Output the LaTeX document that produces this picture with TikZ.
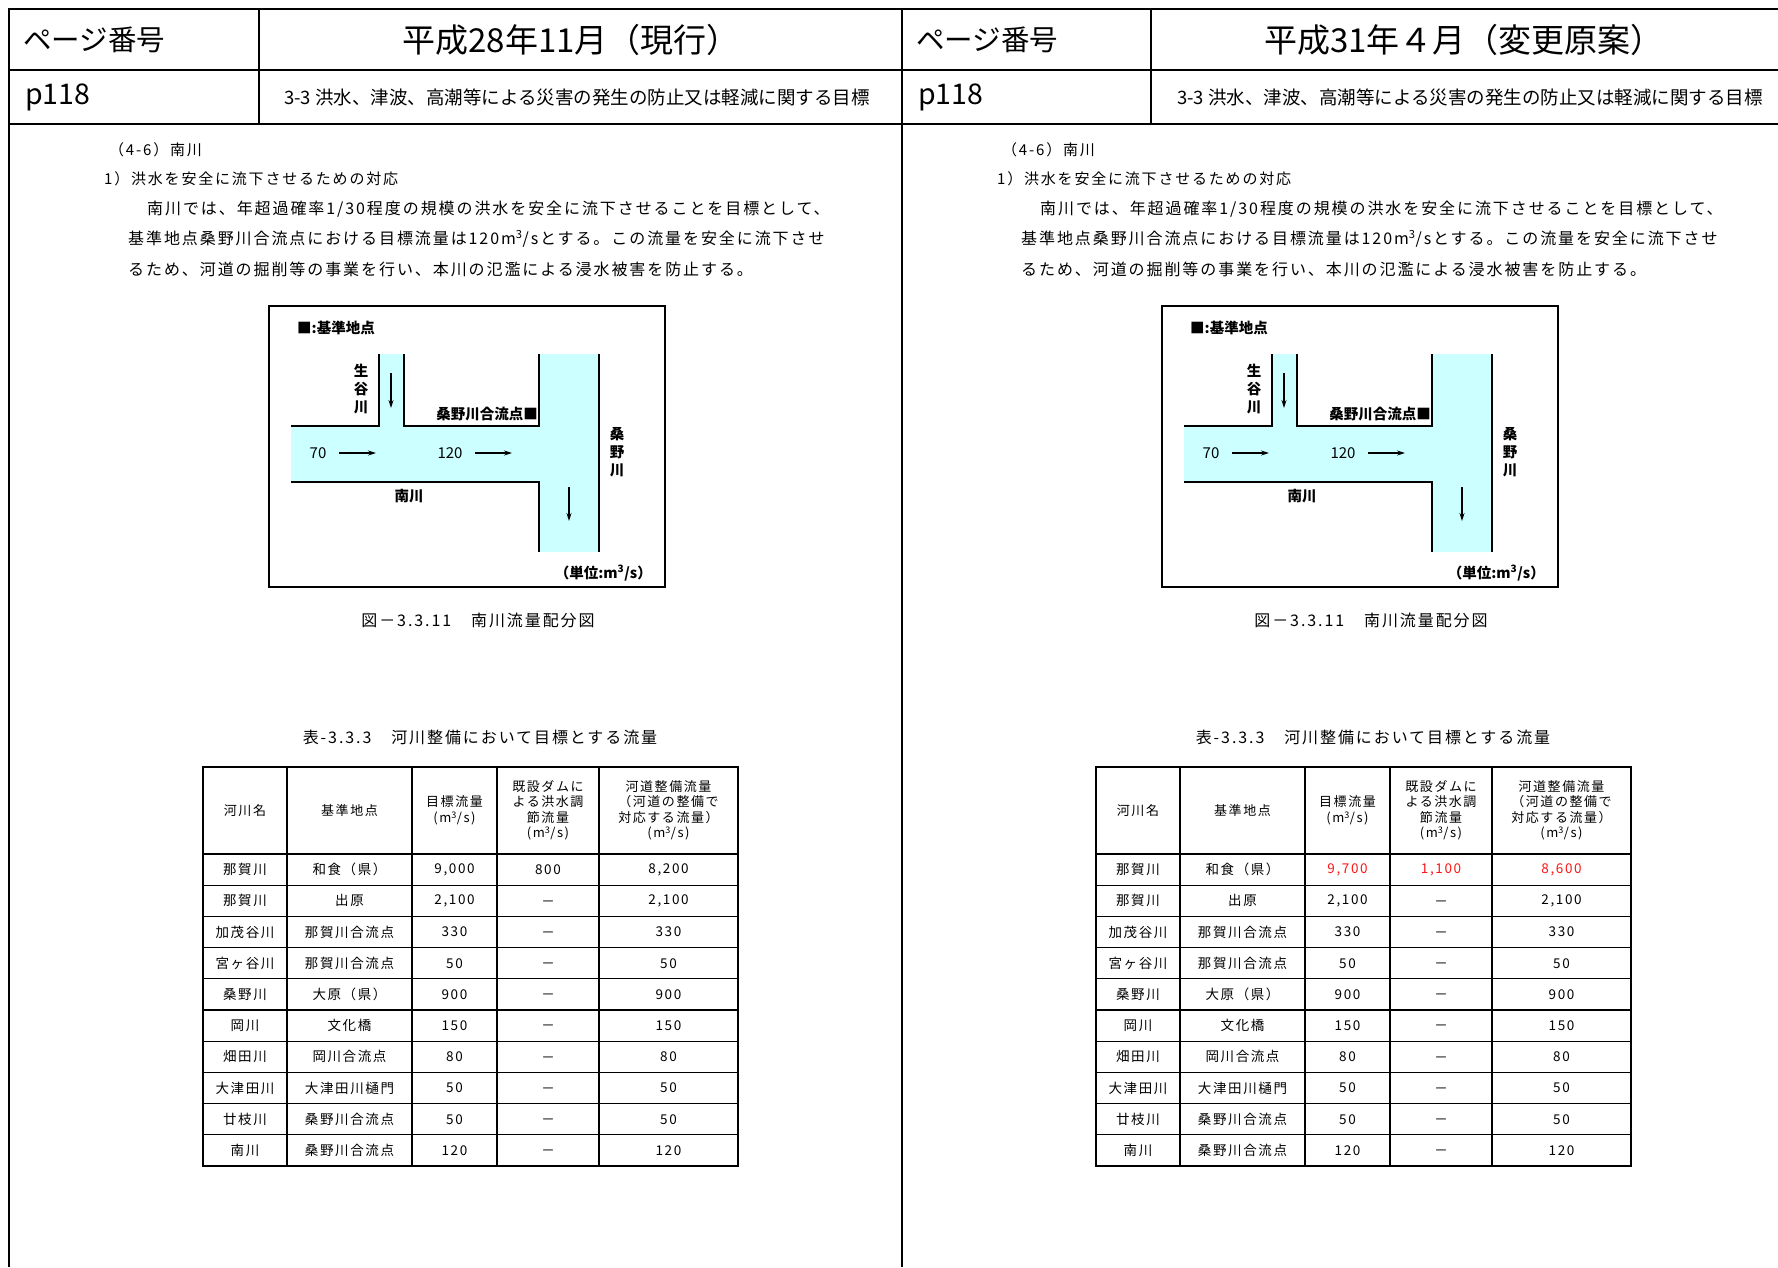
\documentclass[tikz,border=0pt]{standalone}
\usepackage{fontspec}
\setmainfont{Noto Sans CJK JP}
\newfontfamily\spacedfont[LetterSpace=12]{Noto Sans CJK JP}
\usetikzlibrary{arrows.meta}
\definecolor{rivercyan}{RGB}{204,255,255}
\definecolor{revred}{RGB}{255,20,20}

\newcommand{\panelpage}[4]{%
  % header cells
  \node[pagehead,anchor=west] (pagelbl) at (23,40) {ページ番号};
  \node[titlehead] (edition) at (571,40) {#1};
  \node[pagehead,anchor=west] (pageno) at (25,97) {p118};
  \node[subhead] (section) at (577,97) {3-3 洪水、津波、高潮等による災害の発生の防止又は軽減に関する目標};
  % text
  \node[headtext] (item) at (109,150) {（4-6）南川};
  \node[headtext] (subitem) at (104,179) {1）洪水を安全に流下させるための対応};
  \node[bodytext] (line1) at (147,209) {南川では、年超過確率1/30程度の規模の洪水を安全に流下させることを目標として、};
  \node[bodytext] (line2) at (128,239) {基準地点桑野川合流点における目標流量は120m\textsuperscript{3}/sとする。この流量を安全に流下させ};
  \node[bodytext] (line3) at (128,269) {るため、河道の掘削等の事業を行い、本川の氾濫による浸水被害を防止する。};
  % flow figure
  \draw[line width=2pt] (269,306) rectangle (665,587);
  \fill[rivercyan] (379,354) -- (404,354) -- (404,426) -- (539,426) -- (539,354) -- (599,354)
    -- (599,552) -- (539,552) -- (539,482) -- (291,482) -- (291,426) -- (379,426) -- cycle;
  \draw[bank] (379,354) |- (291,426);
  \draw[bank] (404,354) |- (539,426) -- (539,354);
  \draw[bank] (291,482) -| (539,552);
  \draw[bank] (599,354) -- (599,552);
  \coordinate (ikuS) at (391,373);
  \coordinate (ikuE) at (391,408);
  \coordinate (upS) at (339,453);
  \coordinate (upE) at (376,453);
  \coordinate (downS) at (475,453);
  \coordinate (downE) at (512,453);
  \coordinate (kuwS) at (569,487);
  \coordinate (kuwE) at (569,521);
  \draw[flow] (ikuS) -- (ikuE);
  \draw[flow] (upS) -- (upE);
  \draw[flow] (downS) -- (downE);
  \draw[flow] (kuwS) -- (kuwE);
  \node[figlabel,anchor=west] (legend) at (297,328) {■:基準地点};
  \node[figlabel,vlabel] (ikutani) at (361,389) {生\\谷\\川};
  \node[figlabel,anchor=east] (junction) at (538,414) {桑野川合流点■};
  \node[figlabel,vlabel] (kuwano) at (617,452) {桑\\野\\川};
  \node[figvalue] (q70) at (318,453) {70};
  \node[figvalue] (q120) at (450,453) {120};
  \node[figlabel] (minami) at (409,496) {南川};
  \node[figlabel,anchor=east] (unit) at (652,573) {（単位:m\textsuperscript{3}/s）};
  \node[caption] (figcap) at (478,620) {図－3.3.11　南川流量配分図};
  % table
  \node[caption] (tabcap) at (480,737) {表-3.3.3　河川整備において目標とする流量};
  \node[thead] (h1) at (245,810.5) {河川名};
  \node[thead] (h2) at (349.5,810.5) {基準地点};
  \node[thead] (h3) at (454.5,810.5) {目標流量\\(m\textsuperscript{3}/s)};
  \node[thead] (h4) at (548,810.5) {既設ダムに\\よる洪水調\\節流量\\(m\textsuperscript{3}/s)};
  \node[thead] (h5) at (668.5,810.5) {河道整備流量\\（河道の整備で\\対応する流量）\\(m\textsuperscript{3}/s)};
  \node[cell] (river1) at (245,869.6) {那賀川};
  \node[cell] (point1) at (349.5,869.6) {和食（県）};
  \node[cell,changed] (target1) at (454.5,869.6) {#2};
  \node[cell,changed] (dam1) at (548,869.6) {#3};
  \node[cell,changed] (channel1) at (668.5,869.6) {#4};
  \foreach \i/\rv/\pt/\q/\ch in {2/那賀川/出原/{2,100}/{2,100}, 3/加茂谷川/那賀川合流点/330/330,
      4/宮ヶ谷川/那賀川合流点/50/50, 5/桑野川/大原（県）/900/900, 6/岡川/文化橋/150/150,
      7/畑田川/岡川合流点/80/80, 8/大津田川/大津田川樋門/50/50, 9/廿枝川/桑野川合流点/50/50,
      10/南川/桑野川合流点/120/120}{
    \pgfmathsetmacro\ry{854+31.2*(\i-0.5)}
    \node[cell] (river\i) at (245,\ry) {\rv};
    \node[cell] (point\i) at (349.5,\ry) {\pt};
    \node[cell] (target\i) at (454.5,\ry) {\q};
    \node[cell] (dam\i) at (548,\ry+2.5) {－};
    \node[cell] (channel\i) at (668.5,\ry) {\ch};
  }
  \draw[line width=2.4pt] (203,767) rectangle (738,1166);
  \foreach \cx in {287,412,497,599}
    \draw[tabrule] (\cx,767) -- (\cx,1166);
  \draw[line width=1.8pt] (203,854) -- (738,854);
  \foreach \k in {1,...,9}
    \draw[tabrule] (203,{854+31.2*\k}) -- (738,{854+31.2*\k});
}

\begin{document}
\begin{tikzpicture}[x=1pt,y=-1pt,
    frame/.style={line width=2.8pt},
    pagehead/.style={inner sep=0pt,font=\fontsize{28.5}{30}\selectfont},
    titlehead/.style={inner sep=0pt,font=\fontsize{33}{35}\selectfont},
    subhead/.style={inner sep=0pt,font=\fontsize{18.5}{20}\selectfont},
    headtext/.style={inner sep=0pt,anchor=west,font=\fontsize{15}{17}\spacedfont},
    bodytext/.style={inner sep=0pt,anchor=west,font=\fontsize{16}{18}\spacedfont},
    figlabel/.style={inner sep=0pt,font=\fontsize{14.5}{18}\bfseries},
    figvalue/.style={inner sep=0pt,font=\fontsize{15}{18}\selectfont},
    vlabel/.style={align=center},
    caption/.style={inner sep=0pt,font=\fontsize{16}{18}\spacedfont},
    bank/.style={line width=2.6pt},
    flow/.style={line width=1.1pt,-{Stealth[length=8pt,width=5pt]}},
    thead/.style={inner sep=0pt,align=center,font=\fontsize{13}{15.5}\spacedfont},
    cell/.style={inner sep=0pt,font=\fontsize{13.5}{16}\spacedfont},
    tabrule/.style={line width=1.2pt},
    changed/.style={}]
  \useasboundingbox (0,0) rectangle (1778,1267);

  % page frame
  \draw[frame] (9,1267) -- (9,9) -- (1778,9);
  \draw[frame] (9,70) -- (1778,70);
  \draw[frame] (9,124) -- (1778,124);
  \draw[frame] (902,9) -- (902,1267);
  \draw[frame] (259,9) -- (259,124);
  \draw[frame] (1151,9) -- (1151,124);

  \begin{scope}[name prefix=L-]
    \panelpage{平成28年11月（現行）}{9,000}{800}{8,200}
  \end{scope}
  \begin{scope}[xshift=893pt,name prefix=R-,changed/.style={text=revred}]
    \panelpage{平成31年４月（変更原案）}{9,700}{1,100}{8,600}
  \end{scope}
\end{tikzpicture}
\end{document}
